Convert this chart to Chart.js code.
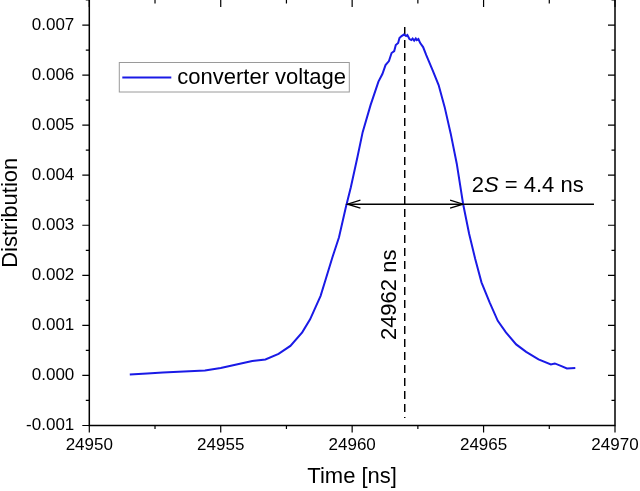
<!DOCTYPE html>
<html>
<head>
<meta charset="utf-8">
<style>
  html, body { margin: 0; padding: 0; background: #fff; }
  canvas { display: block; }
</style>
</head>
<body>
<canvas id="pulseChart" width="640" height="491"></canvas>
<script src="https://cdn.jsdelivr.net/npm/chart.js@4/dist/chart.umd.min.js"></script>
<script>
const timeNs = [
  24951.54, 24952.2, 24952.8, 24953.6, 24954.4, 24955.0, 24955.6, 24956.2, 24956.7, 24957.2,
  24957.65, 24958.1, 24958.4, 24958.8, 24959.0, 24959.25, 24959.5, 24959.76, 24959.95, 24960.2,
  24960.4, 24960.7, 24961.0, 24961.15, 24961.27, 24961.4, 24961.5, 24961.6, 24961.66, 24961.75,
  24961.8, 24961.88, 24961.97, 24962.05, 24962.1, 24962.18, 24962.25, 24962.3, 24962.36, 24962.42,
  24962.46, 24962.52, 24962.59, 24962.7, 24962.82, 24963.06, 24963.29, 24963.52, 24963.75, 24963.98,
  24964.22, 24964.45, 24964.68, 24964.92, 24965.23, 24965.54, 24965.85, 24966.24, 24966.62, 24967.09,
  24967.56, 24967.71, 24967.94, 24968.17, 24968.49
];
const distribution = [
  0.00002, 0.00004, 0.00006, 0.00008, 0.00010, 0.00015, 0.00022, 0.00029, 0.00032, 0.00043,
  0.00059, 0.00086, 0.00112, 0.00159, 0.00193, 0.00236, 0.00276, 0.00336, 0.00376, 0.00436,
  0.00486, 0.00540, 0.00587, 0.00602, 0.00620, 0.00628, 0.00644, 0.00648, 0.00660, 0.00664,
  0.00674, 0.00678, 0.00681, 0.00678, 0.00680, 0.00672, 0.00670, 0.00673, 0.00669, 0.00673,
  0.00670, 0.00672, 0.00664, 0.00656, 0.00640, 0.00610, 0.00580, 0.00536, 0.00483, 0.00423,
  0.00343, 0.00283, 0.00233, 0.00186, 0.00146, 0.00109, 0.00086, 0.00062, 0.00047, 0.00032,
  0.00022, 0.00024, 0.00019, 0.00014, 0.00015
];

// dashed marker at the peak
const peakTime = [24962, 24962];
const peakMarkY = [0.00696, -0.00085];

// width marker: arrow between the half-height crossings plus leader line
const widthTime = [24959.82, 24969.2];
const widthLevel = [0.00342, 0.00342];
const arrowEnds = [24959.82, 24964.22];

const xTickLabels = ['24950', '24955', '24960', '24965', '24970'];
const yTickLabels = ['-0.001', '0.000', '0.001', '0.002', '0.003', '0.004', '0.005', '0.006', '0.007'];

const seriesName = 'converter voltage';
const lineBlue = '#1a1ae6';
const FONT = "'Liberation Sans', Arial, sans-serif";

Chart.defaults.font.family = FONT;
Chart.defaults.color = '#000';

function toPoints(xs, ys) {
  return xs.map((x, i) => ({ x: x, y: ys[i] }));
}

// frame, ticks (out on left/bottom, in on right/top), arrows, labels, legend
const decorations = {
  id: 'decorations',
  afterDatasetsDraw(chart) {
    const ctx = chart.ctx;
    const area = chart.chartArea;
    const xs = chart.scales.x;
    const ys = chart.scales.y;
    ctx.save();
    ctx.strokeStyle = '#000';
    ctx.lineWidth = 1.5;
    ctx.beginPath();
    ctx.moveTo(area.left, area.top);
    ctx.lineTo(area.left, area.bottom);
    ctx.lineTo(area.right, area.bottom);
    ctx.lineTo(area.right, area.top);
    ctx.stroke();

    ctx.lineWidth = 1.2;
    ctx.beginPath();
    ys.ticks.forEach(t => {
      const y = ys.getPixelForValue(t.value);
      const len = t.label ? 7 : 3.5;
      ctx.moveTo(area.left - len, y); ctx.lineTo(area.left, y);
      ctx.moveTo(area.right - len, y); ctx.lineTo(area.right, y);
    });
    xs.ticks.forEach(t => {
      const x = xs.getPixelForValue(t.value);
      const len = t.label ? 7 : 3.5;
      ctx.moveTo(x, area.bottom); ctx.lineTo(x, area.bottom + len);
      ctx.moveTo(x, area.top); ctx.lineTo(x, area.top + len);
    });
    ctx.stroke();

    // open arrowheads
    const ay = ys.getPixelForValue(widthLevel[0]);
    const axL = xs.getPixelForValue(arrowEnds[0]);
    const axR = xs.getPixelForValue(arrowEnds[1]);
    ctx.lineWidth = 1.3;
    ctx.beginPath();
    ctx.moveTo(axL + 13, ay - 4); ctx.lineTo(axL, ay); ctx.lineTo(axL + 13, ay + 4);
    ctx.moveTo(axR - 13, ay - 4); ctx.lineTo(axR, ay); ctx.lineTo(axR - 13, ay + 4);
    ctx.stroke();

    // "2S = 4.4 ns"
    ctx.fillStyle = '#000';
    ctx.textBaseline = 'middle';
    ctx.textAlign = 'left';
    let tx = xs.getPixelForValue(24964.55);
    const ty = ys.getPixelForValue(0.00378);
    const parts = [['2', ''], ['S', 'italic '], [' = 4.4 ns', '']];
    parts.forEach(p => {
      ctx.font = p[1] + '22px ' + FONT;
      ctx.fillText(p[0], tx, ty);
      tx += ctx.measureText(p[0]).width;
    });

    // rotated peak time
    ctx.save();
    ctx.translate(xs.getPixelForValue(24961.42), ys.getPixelForValue(0.00161));
    ctx.rotate(-Math.PI / 2);
    ctx.textAlign = 'center';
    ctx.font = '22px ' + FONT;
    ctx.fillText(peakTime[0] + ' ns', 0, 0);
    ctx.restore();

    // legend box
    const lx = area.left + 30, ly = 62.5, lw = 230, lh = 29.5;
    ctx.fillStyle = '#fff';
    ctx.fillRect(lx, ly, lw, lh);
    ctx.strokeStyle = '#9a9a9a';
    ctx.lineWidth = 1;
    ctx.strokeRect(lx, ly, lw, lh);
    ctx.strokeStyle = lineBlue;
    ctx.lineWidth = 2;
    ctx.beginPath();
    ctx.moveTo(lx + 3, ly + 15); ctx.lineTo(lx + 52, ly + 15);
    ctx.stroke();
    ctx.fillStyle = '#000';
    ctx.font = '22px ' + FONT;
    ctx.textAlign = 'left';
    ctx.fillText(seriesName, lx + 58, ly + 15);
    ctx.restore();
  }
};

new Chart(document.getElementById('pulseChart'), {
  type: 'line',
  data: {
    datasets: [
      {
        label: seriesName,
        data: toPoints(timeNs, distribution),
        borderColor: lineBlue,
        borderWidth: 2,
        pointRadius: 0,
        tension: 0
      },
      {
        label: 'peak',
        data: toPoints(peakTime, peakMarkY),
        borderColor: '#000',
        borderWidth: 1.5,
        borderDash: [8, 5],
        pointRadius: 0
      },
      {
        label: 'width',
        data: toPoints(widthTime, widthLevel),
        borderColor: '#000',
        borderWidth: 1.5,
        pointRadius: 0
      }
    ]
  },
  options: {
    responsive: false,
    animation: false,
    layout: { padding: 0 },
    plugins: { legend: { display: false }, tooltip: { enabled: false } },
    scales: {
      x: {
        type: 'linear',
        min: 24950,
        max: 24970,
        grid: { display: false, drawTicks: true, tickLength: 7 },
        border: { display: false },
        ticks: {
          stepSize: 2.5,
          padding: 3,
          maxRotation: 0,
          autoSkip: false,
          font: { size: 17 },
          callback: v => {
            const k = Math.round((v - 24950) / 5);
            return Math.abs(v - 24950 - k * 5) < 1e-6 ? xTickLabels[k] : '';
          }
        },
        title: {
          display: true,
          text: 'Time [ns]',
          font: { size: 22, lineHeight: 1 },
          padding: { top: 0, bottom: 3 }
        },
        afterFit: s => { s.height = 65.5; s.paddingLeft = 0; s.paddingRight = 25; }
      },
      y: {
        min: -0.001,
        max: 0.0075,
        grid: { display: false, drawTicks: true, tickLength: 7 },
        border: { display: false },
        ticks: {
          stepSize: 0.0005,
          padding: 8,
          autoSkip: false,
          font: { size: 17 },
          callback: v => {
            const k = Math.round((v + 0.001) / 0.001);
            return Math.abs(v + 0.001 - k * 0.001) < 1e-9 ? yTickLabels[k] : '';
          }
        },
        title: {
          display: true,
          text: 'Distribution',
          font: { size: 22, lineHeight: 1 },
          padding: { top: 0, bottom: 0 }
        },
        afterFit: s => { s.width = 89.3; s.paddingTop = 0; s.paddingBottom = 0; }
      }
    }
  },
  plugins: [decorations]
});
</script>
</body>
</html>
